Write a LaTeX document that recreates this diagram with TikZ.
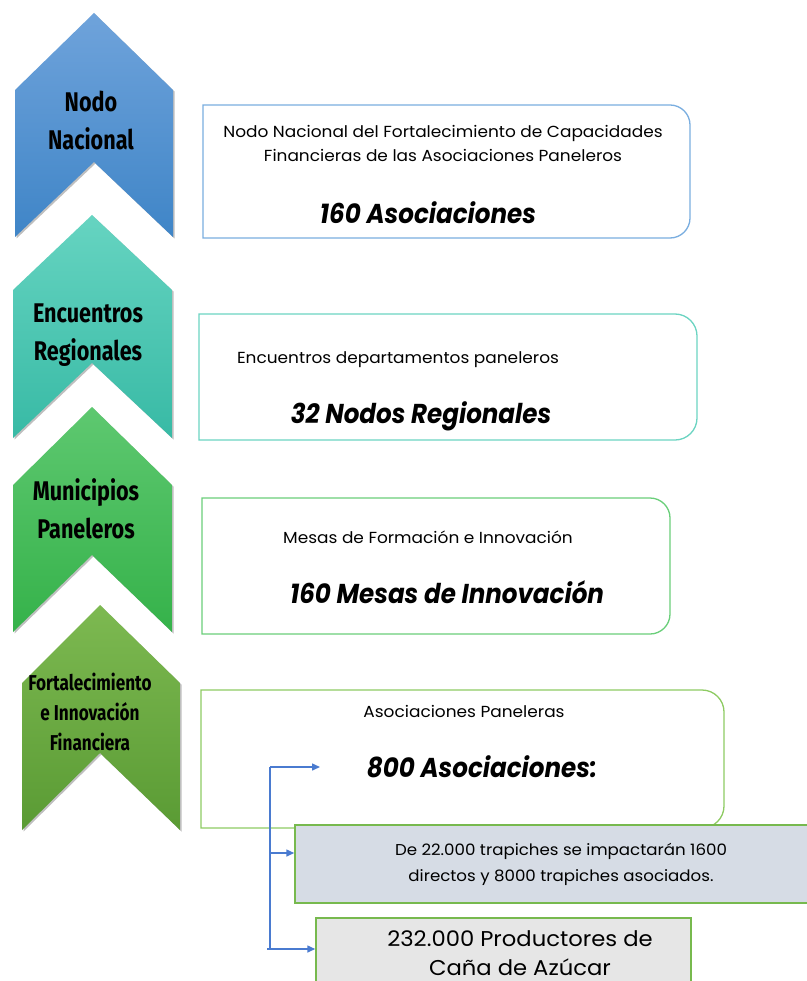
\documentclass[tikz,border=0pt]{standalone}
\usepackage{fontspec}
\setmainfont{Poppins}[FakeStretch=1.06]
\newfontfamily\agency[FakeStretch=0.8]{Fira Sans}
\newfontfamily\gothicbig[FakeStretch=0.9]{Poppins}
\usetikzlibrary{shadows,arrows.meta}
\definecolor{cAt}{HTML}{6FA3DB}\definecolor{cAb}{HTML}{3F85C7}
\definecolor{cBt}{HTML}{66D4C1}\definecolor{cBb}{HTML}{38BAA5}
\definecolor{cCt}{HTML}{5EC870}\definecolor{cCb}{HTML}{35B24A}
\definecolor{cDt}{HTML}{7DB951}\definecolor{cDb}{HTML}{5A9B34}
\definecolor{bA}{HTML}{7AAEE0}\definecolor{bB}{HTML}{6CD4C2}
\definecolor{bC}{HTML}{6ACF7A}\definecolor{bD}{HTML}{8ECB63}
\definecolor{gbord}{HTML}{77B94E}\definecolor{fillE}{HTML}{D6DCE5}
\definecolor{fillF}{HTML}{E6E6E6}\definecolor{arrblue}{HTML}{4A7BD0}
\newcommand\chevron[9]{%
  \path[top color=#8,bottom color=#9,drop shadow={shadow xshift=1.5pt,shadow yshift=-1.5pt,opacity=0.25,fill=black}]
    (#1,-#5) -- (#3,-#4) -- (#2,-#5) -- (#2,-#7) -- (#3,-#6) -- (#1,-#7) -- cycle;}
\newcommand\rbox[6]{%
  \draw[#6,line width=1.3pt] (#1,-#2) -- ({#3-#5},-#2) arc[start angle=90,end angle=0,radius=#5]
    -- (#3,{-#4+#5}) arc[start angle=0,end angle=-90,radius=#5] -- (#1,-#4) -- cycle;}
\tikzset{
  lab/.style={align=center,inner sep=0pt,font=\agency\bfseries\fontsize{27}{38}\selectfont},
  labsmall/.style={align=center,inner sep=0pt,font=\agency\bfseries\fontsize{21.5}{30}\selectfont},
  smalltxt/.style={align=center,inner sep=0pt,anchor=base,font=\fontsize{16}{24}\selectfont},
  bigtxt/.style={inner sep=0pt,anchor=base,font=\gothicbig\bfseries\itshape\fontsize{27.3}{30}\selectfont},
  blueln/.style={draw=arrblue,line width=1.5pt},
  arr/.style={blueln,-{Triangle[length=8pt,width=7pt]}},
  greenbox/.style={draw=gbord,line width=1.5pt,inner sep=0pt}
}
\begin{document}
\begin{tikzpicture}[x=1pt,y=1pt]
\fill[white] (0,0) rectangle (806,-981);
\useasboundingbox (0,0) rectangle (806,-981);
% chevrons
\chevron{15}{173}{94}{13}{90}{162}{237}{cAt}{cAb}
\chevron{13}{172}{92}{215}{290}{363}{438}{cBt}{cBb}
\chevron{13}{172}{92}{407}{485}{555}{632}{cCt}{cCb}
\chevron{22}{180}{100}{605}{683}{753}{830}{cDt}{cDb}
\node[lab,anchor=base] (l1) at (91,-150) {Nodo\\Nacional};
\node[lab,anchor=base] (l2) at (88,-360) {Encuentros\\Regionales};
\node[lab,anchor=base] (l3) at (86,-538) {Municipios\\Paneleros};
\node[labsmall,anchor=base] (l4) at (90,-750) {Fortalecimiento\\e Innovación\\Financiera};
% boxes
\rbox{203}{105}{690}{238}{20}{bA}
\rbox{199}{314}{697}{440}{22}{bB}
\rbox{202}{498}{670}{634}{20}{bC}
\rbox{201}{690}{724}{828}{22}{bD}
\node[smalltxt] (t1) at (443,-162) {Nodo Nacional del Fortalecimiento de Capacidades\\Financieras de las Asociaciones Paneleros};
\node[bigtxt] (k1) at (428,-224) {160 Asociaciones};
\node[smalltxt] (t2) at (398,-363) {Encuentros departamentos paneleros};
\node[bigtxt] (k2) at (421,-423) {32 Nodos Regionales};
\node[smalltxt] (t3) at (428,-543) {Mesas de Formación e Innovación};
\node[bigtxt] (k3) at (447,-603) {160 Mesas de Innovación};
\node[smalltxt] (t4) at (464,-717) {Asociaciones Paneleras};
\node[bigtxt] (k4) at (482,-777) {800 Asociaciones:};
% lower boxes
\node[greenbox,fill=fillE,minimum width=532pt,minimum height=78pt,align=center,
  font=\fontsize{15.7}{26}\selectfont] (b5) at (561,-864)
  {De 22.000 trapiches se impactarán 1600\\directos y 8000 trapiches asociados.};
\node[greenbox,fill=fillF,minimum width=375pt,minimum height=100pt,anchor=north] (b6) at (503.5,-917) {};
\node[align=center,inner sep=0pt,anchor=base,font=\fontsize{21.4}{29}\selectfont] (t6) at (520,-975)
  {232.000 Productores de\\Caña de Azúcar};
% connectors
\coordinate (j1) at (270,-767);
\coordinate (j2) at (270,-853);
\coordinate (j3) at (267,-949);
\coordinate (a1) at (320,-767);
\draw[blueln] (j1) -- (j1 |- j3);
\draw[arr] (j1) -- (a1);
\draw[arr] (j2) -- (j2 -| b5.west);
\draw[arr] (j3) -- (j3 -| b6.west);
\end{tikzpicture}
\end{document}
